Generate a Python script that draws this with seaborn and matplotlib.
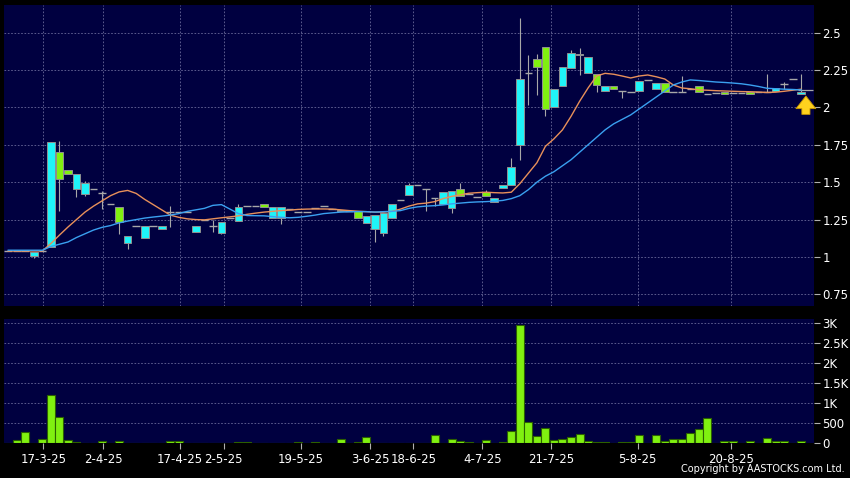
import numpy as np
import pandas as pd
import seaborn as sns
import matplotlib.pyplot as plt

# daily slots (trading days shown on chart), price data
open_p = [1.04, 1.04, 1.04, 1.005, 1.04, 1.066, 1.70, 1.58, 1.453, 1.422,
          1.455, 1.43, 1.355, 1.333, 1.092, 1.207, 1.126, 1.207, 1.19, 1.30,
          1.30, 1.30, 1.17, 1.25, 1.207, 1.163, 1.26, 1.241, 1.342, 1.342,
          1.355, 1.26, 1.26, 1.32, 1.30, 1.30, 1.33, 1.342, 1.32, 1.305,
          1.31, 1.31, 1.23, 1.186, 1.163, 1.26, 1.382, 1.415, 1.482, 1.455,
          1.397, 1.353, 1.33, 1.453, 1.42, 1.40, 1.433, 1.37, 1.46, 1.482,
          1.75, 2.228, 2.327, 2.402, 2.005, 2.14, 2.262, 2.35, 2.23, 2.224,
          2.11, 2.144, 2.11, 2.105, 2.11, 2.184, 2.122, 2.166, 2.106, 2.106,
          2.122, 2.14, 2.088, 2.099, 2.10, 2.099, 2.099, 2.10, 2.10, 2.10,
          2.108, 2.155, 2.188, 2.088]
high_p = [1.04, 1.04, 1.04, 1.035, 1.04, 1.772, 1.776, 1.58, 1.553, 1.51,
          1.455, 1.44, 1.355, 1.333, 1.143, 1.207, 1.21, 1.207, 1.206, 1.34,
          1.30, 1.30, 1.21, 1.25, 1.25, 1.237, 1.26, 1.355, 1.342, 1.342,
          1.355, 1.333, 1.333, 1.32, 1.30, 1.30, 1.33, 1.342, 1.32, 1.315,
          1.31, 1.31, 1.277, 1.28, 1.297, 1.355, 1.382, 1.493, 1.482, 1.455,
          1.397, 1.433, 1.442, 1.493, 1.42, 1.40, 1.45, 1.393, 1.482, 1.66,
          2.597, 2.35, 2.36, 2.402, 2.12, 2.27, 2.384, 2.40, 2.34, 2.224,
          2.144, 2.144, 2.11, 2.105, 2.18, 2.184, 2.166, 2.166, 2.106, 2.21,
          2.122, 2.14, 2.088, 2.099, 2.10, 2.099, 2.099, 2.10, 2.10, 2.224,
          2.127, 2.17, 2.188, 2.224]
low_p = [1.04, 1.04, 1.04, 0.995, 1.04, 1.066, 1.31, 1.553, 1.404, 1.41,
         1.455, 1.32, 1.355, 1.154, 1.052, 1.207, 1.126, 1.207, 1.19, 1.20,
         1.30, 1.30, 1.17, 1.25, 1.17, 1.152, 1.26, 1.241, 1.342, 1.342,
         1.333, 1.26, 1.22, 1.32, 1.30, 1.30, 1.33, 1.342, 1.32, 1.305,
         1.31, 1.26, 1.23, 1.10, 1.14, 1.26, 1.382, 1.415, 1.482, 1.31,
         1.338, 1.353, 1.297, 1.41, 1.42, 1.40, 1.41, 1.37, 1.46, 1.482,
         1.65, 2.016, 2.08, 1.94, 2.005, 2.14, 2.262, 2.22, 2.23, 2.106,
         2.11, 2.122, 2.06, 2.105, 2.11, 2.184, 2.122, 2.10, 2.106, 2.106,
         2.122, 2.10, 2.088, 2.099, 2.093, 2.099, 2.099, 2.09, 2.10, 2.10,
         2.108, 2.125, 2.188, 2.088]
close_p = [1.04, 1.04, 1.04, 1.035, 1.04, 1.772, 1.52, 1.553, 1.553, 1.493,
           1.455, 1.43, 1.355, 1.233, 1.143, 1.207, 1.21, 1.207, 1.206, 1.30,
           1.30, 1.30, 1.21, 1.25, 1.207, 1.237, 1.26, 1.333, 1.342, 1.342,
           1.333, 1.333, 1.333, 1.32, 1.30, 1.30, 1.33, 1.342, 1.32, 1.315,
           1.31, 1.26, 1.277, 1.28, 1.297, 1.355, 1.382, 1.482, 1.482, 1.455,
           1.397, 1.433, 1.442, 1.41, 1.42, 1.40, 1.41, 1.393, 1.482, 1.60,
           2.188, 2.228, 2.27, 1.988, 2.12, 2.27, 2.362, 2.36, 2.34, 2.15,
           2.144, 2.122, 2.11, 2.105, 2.18, 2.184, 2.166, 2.10, 2.106, 2.106,
           2.122, 2.10, 2.088, 2.099, 2.093, 2.099, 2.099, 2.09, 2.10, 2.10,
           2.127, 2.155, 2.188, 2.10]
ma_fast = [1.04, 1.04, 1.04, 1.04, 1.04, 1.09, 1.146, 1.20, 1.25, 1.30,
           1.34, 1.375, 1.41, 1.435, 1.445, 1.425, 1.385, 1.35, 1.315, 1.28,
           1.265, 1.255, 1.25, 1.248, 1.255, 1.262, 1.268, 1.275, 1.285, 1.293,
           1.30, 1.305, 1.31, 1.313, 1.318, 1.32, 1.321, 1.321, 1.32, 1.315,
           1.31, 1.306, 1.303, 1.30, 1.30, 1.305, 1.32, 1.34, 1.355, 1.36,
           1.37, 1.39, 1.405, 1.415, 1.426, 1.43, 1.433, 1.43, 1.428, 1.433,
           1.49, 1.56, 1.63, 1.74, 1.79, 1.85, 1.94, 2.04, 2.13, 2.21,
           2.228, 2.222, 2.21, 2.197, 2.21, 2.217, 2.205, 2.19, 2.15, 2.13,
           2.125, 2.117, 2.115, 2.112, 2.11, 2.108, 2.106, 2.105, 2.103, 2.10,
           2.102, 2.108, 2.115, 2.122]
ma_slow = [1.045, 1.045, 1.045, 1.045, 1.045, 1.07, 1.085, 1.10, 1.13, 1.155,
           1.18, 1.198, 1.21, 1.228, 1.24, 1.25, 1.26, 1.267, 1.273, 1.28,
           1.29, 1.305, 1.315, 1.325, 1.345, 1.35, 1.32, 1.29, 1.277, 1.276,
           1.275, 1.27, 1.265, 1.262, 1.265, 1.272, 1.28, 1.29, 1.295, 1.30,
           1.302, 1.303, 1.303, 1.30, 1.303, 1.305, 1.31, 1.325, 1.335, 1.34,
           1.343, 1.348, 1.355, 1.36, 1.365, 1.368, 1.37, 1.373, 1.378, 1.39,
           1.41, 1.45, 1.50, 1.54, 1.57, 1.61, 1.65, 1.70, 1.75, 1.80,
           1.85, 1.89, 1.92, 1.95, 1.99, 2.03, 2.07, 2.11, 2.15, 2.17,
           2.184, 2.18, 2.175, 2.17, 2.167, 2.163, 2.158, 2.15, 2.14, 2.128,
           2.125, 2.122, 2.12, 2.117]
volume = [0, 83, 274, 0, 108, 1186, 656, 83, 33, 10,
          0, 58, 0, 42, 10, 0, 0, 0, 0, 58,
          58, 0, 0, 0, 10, 0, 0, 33, 25, 0,
          10, 10, 0, 0, 33, 0, 33, 0, 0, 108,
          0, 20, 141, 0, 0, 0, 0, 10, 0, 0,
          191, 0, 100, 58, 15, 0, 75, 0, 15, 291,
          2946, 523, 174, 365, 83, 108, 158, 224, 58, 33,
          25, 10, 33, 33, 199, 0, 208, 50, 108, 91,
          241, 349, 623, 10, 58, 58, 0, 50, 0, 125,
          58, 58, 0, 58]
date_labels = ['17-3-25', '2-4-25', '17-4-25', '2-5-25', '19-5-25', '3-6-25',
               '18-6-25', '4-7-25', '21-7-25', '5-8-25', '20-8-25']
date_pos = [4.1, 11.15, 20.15, 25.25, 34.35, 42.45, 47.5, 55.6, 63.7, 73.8, 84.8]
price_ticks = [0.75, 1, 1.25, 1.5, 1.75, 2, 2.25, 2.5]
vol_ticks = [0, 500, 1000, 1500, 2000, 2500, 3000]
vol_labels = ['0', '500', '1K', '1.5K', '2K', '2.5K', '3K']

df = pd.DataFrame({'open': open_p, 'high': high_p, 'low': low_p, 'close': close_p,
                   'ma10': ma_fast, 'ma20': ma_slow, 'vol': volume})
df['slot'] = np.arange(len(df))

NAVY = '#000040'
UP = '#1ff4f8'
DOWN = '#80f010'
GRAY = '#a8a8a8'
GRID = '#6a6a9a'

fig = plt.figure(figsize=(8.5, 4.78), dpi=100, facecolor='black')
ax = fig.add_axes([4 / 850, 172 / 478, 810 / 850, 301 / 478])
axv = fig.add_axes([4 / 850, 35 / 478, 810 / 850, 124 / 478])
xlim = (-0.5, 94.5)

for a in (ax, axv):
    a.set_facecolor(NAVY)
    for s in a.spines.values():
        s.set_visible(False)
    a.set_xlim(*xlim)
    a.yaxis.tick_right()
    a.tick_params(axis='y', colors='#b0b0b0', labelcolor='white', length=4,
                  width=0.8, labelsize=8.5, pad=2)
    a.grid(True, color=GRID, linestyle=(0, (2, 2)), linewidth=0.6)
    a.set_axisbelow(True)

# candles
w = 0.9
up = df[df.close > df.open]
dn = df[df.close < df.open]
flat = df[df.close == df.open]
ax.vlines(df.slot, df.low, df.high, color=GRAY, linewidth=0.8, zorder=2)
ax.bar(up.slot, up.close - up.open, bottom=up.open, width=w, color=UP,
       edgecolor='#909090', linewidth=0.7, zorder=3)
ax.bar(dn.slot, dn.open - dn.close, bottom=dn.close, width=w, color=DOWN,
       edgecolor='#909090', linewidth=0.7, zorder=3)
ax.hlines(flat.close, flat.slot - w / 2, flat.slot + w / 2, color=GRAY,
          linewidth=1.0, zorder=3)

sns.lineplot(data=df, x='slot', y='ma10', ax=ax, color='#e8905a', linewidth=1.0,
             zorder=4)
sns.lineplot(data=df, x='slot', y='ma20', ax=ax, color='#3aa0f0', linewidth=1.0,
             zorder=4)

ax.set_xlim(*xlim)
ax.set_ylim(0.672, 2.685)
ax.set_yticks(price_ticks)
ax.set_yticklabels(['0.75', '1', '1.25', '1.5', '1.75', '2', '2.25', '2.5'])
ax.set_xticks(date_pos)
ax.tick_params(axis='x', length=0, labelbottom=False)
ax.set_xlabel('')
ax.set_ylabel('')

# last price marker and arrow
ax.hlines(close_p[-1] + 0.017, 92.6, 94.4, color=GRAY, linewidth=0.9, zorder=3)
ax.annotate('', xy=(93.55, 2.095), xytext=(93.55, 1.935),
            arrowprops=dict(arrowstyle='simple,head_width=1.1,head_length=0.7,tail_width=0.45',
                            fc='#ffd21e', ec='#c89600', lw=0.6, mutation_scale=13),
            zorder=6)

# volume
sns.barplot(data=df, x='slot', y='vol', ax=axv, color=DOWN, saturation=1,
            edgecolor='#2c6000', linewidth=0.8, width=0.94)
axv.set_xlim(*xlim)
axv.set_ylim(0, 3090)
axv.set_yticks(vol_ticks)
axv.set_yticklabels(vol_labels)
axv.set_xticks(date_pos)
axv.set_xticklabels(date_labels)
axv.tick_params(axis='x', colors='#b0b0b0', labelcolor='white', length=4,
                width=0.8, labelsize=8.5, pad=3)
axv.set_xlabel('')
axv.set_ylabel('')

fig.text(0.994, 0.008, 'Copyright by AASTOCKS.com Ltd.', color='white',
         fontsize=7, ha='right', va='bottom')

fig.savefig('out.png', dpi=100, facecolor='black')
